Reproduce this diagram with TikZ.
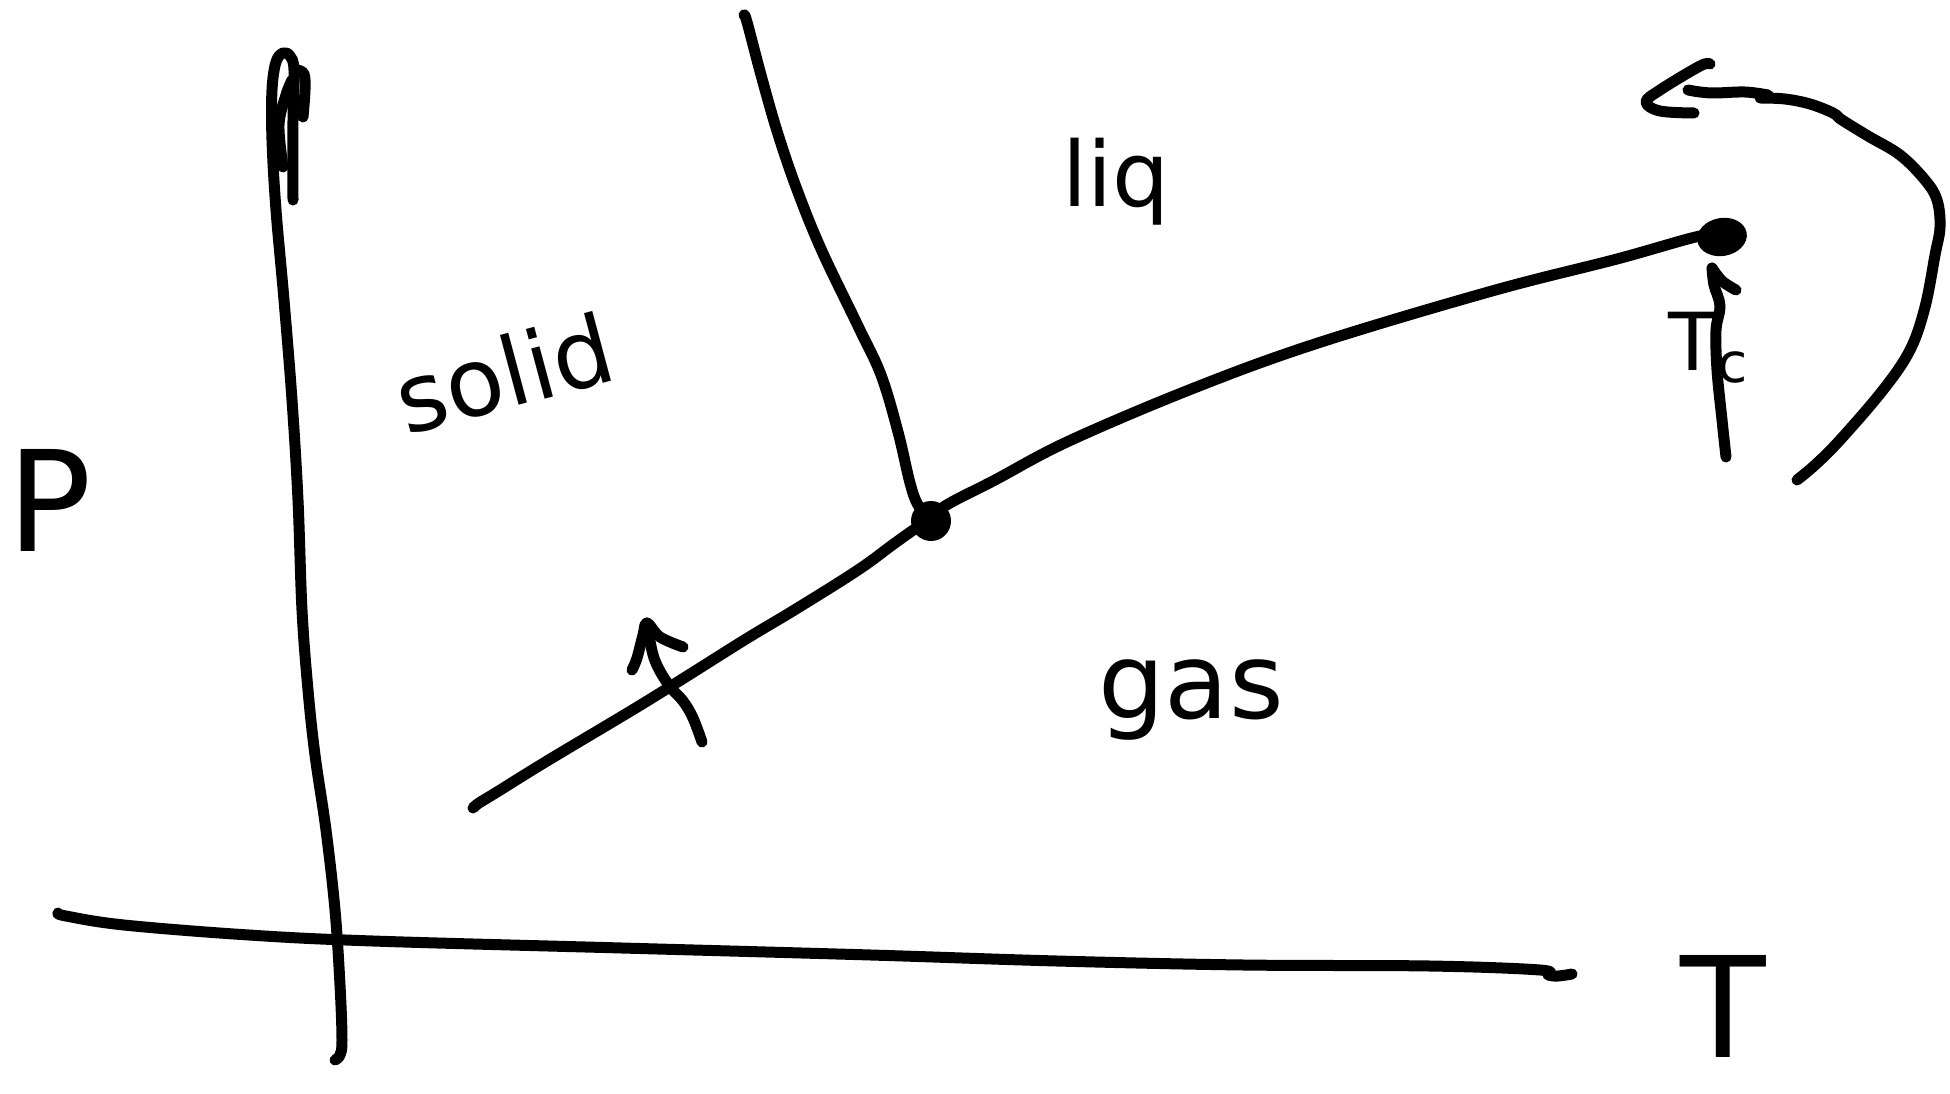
\documentclass[tikz,border=0pt]{standalone}
\usepackage{fontspec}
\setmainfont{DejaVu Sans}
\usetikzlibrary{shapes.geometric}
\begin{document}
\begin{tikzpicture}[x=1pt,y=-1pt,
  pen/.style={line width=11pt,line cap=round,line join=round,draw=black},
  blob/.style={fill=black,draw=none,inner sep=0pt},
  hand/.style={inner sep=0pt,text=black}]
\useasboundingbox[fill=white] (0,0) rectangle (1950,1094);

% points
\node[blob,circle,minimum size=40pt] (tp) at (931,521) {};
\node[blob,ellipse,minimum width=50pt,minimum height=38pt,rotate=10] (cp) at (1722,237) {};

% P axis (vertical, with hand-drawn arrow tip)
\draw[pen] plot[smooth,tension=0.6] coordinates {(293,200) (293,120) (294,70) (290,56) (283,53) (276,62) (272,90) (272,140) (276,210) (284,300) (292,400) (298,500) (302,610) (308,690) (315,755) (326,830) (335,910) (340,985) (342,1040) (340,1055) (335,1060)};
\draw[pen] plot[smooth,tension=0.6] coordinates {(283,167) (279,125) (286,95) (292,80)};
\draw[pen] plot[smooth,tension=0.6] coordinates {(297,70) (304,74) (305,90) (303,117)};

% T axis
\draw[pen] plot[smooth,tension=0.6] coordinates {(58,913) (66,916) (124,925) (249,935) (373,941) (622,948) (871,955) (1057,961) (1244,965) (1430,966) (1540,970) (1548,975) (1558,976) (1572,974)};

% solid-gas boundary
\draw[pen] plot[smooth,tension=0.6] coordinates {(473,808) (479,803) (497,792) (547,761) (634,709) (684,678) (746,639) (796,609) (858,570) (895,543) (918,527) (tp.center)};
% solid-liquid boundary
\draw[pen] plot[smooth,tension=0.6] coordinates {(744,15) (747,22) (761,75) (777,131) (796,187) (821,249) (858,326) (881,375) (898,432) (910,483) (918,505) (tp.center)};
% liquid-gas boundary
\draw[pen] plot[smooth,tension=0.6] coordinates {(tp.center) (945,506) (995,480) (1069,441) (1194,388) (1318,343) (1492,291) (1617,259) (1700,236) (cp.center)};

% arrow across solid-gas line
\coordinate (xa) at (702,742);
\draw[pen] plot[smooth,tension=0.6] coordinates {(xa) (693,718) (683,701) (668,684) (654,658) (647,623)};
\draw[pen] plot[smooth,tension=0.6] coordinates {(632,670) (637,658) (643,635) (647,623) (660,637) (683,647)};

% curved arrow at top right
\coordinate (ca) at (1797,480);
\draw[pen] plot[smooth,tension=0.6] coordinates {(ca) (1815,465) (1840,440) (1883,390) (1910,350) (1925,307) (1935,255) (1940,227) (1937,200) (1925,180) (1900,155) (1868,136) (1842,120) (1833,113) (1810,104) (1785,99) (1760,98)};
\draw[pen] plot[smooth,tension=0.6] coordinates {(1768,95) (1745,92) (1715,93) (1700,92) (1688,90)};
\draw[pen] plot[smooth,tension=0.6] coordinates {(1710,64) (1700,66) (1660,90) (1646,102) (1660,111) (1694,113)};

% arrow to critical point
\coordinate (tcfoot) at (1726,457);
\draw[pen] plot[smooth,tension=0.6] coordinates {(tcfoot) (1722,420) (1717,370) (1716,330) (1720,306) (1714,285) (1712,268)};
\draw[pen] plot[smooth,tension=0.6] coordinates {(1712,268) (1722,281) (1736,290)};

% labels
\node[hand,font=\fontsize{140}{140}\selectfont] (P) at (50,500) {P};
\node[hand,font=\fontsize{140}{140}\selectfont] (T) at (1723,1006) {T};
\node[hand,font=\fontsize{95}{95}\selectfont,rotate=15] (solid) at (504,373) {solid};
\node[hand,font=\fontsize{90}{90}\selectfont] (liq) at (1116,182) {liq};
\node[hand,font=\fontsize{105}{105}\selectfont] (gas) at (1191,700) {gas};
\node[hand,font=\fontsize{80}{80}\selectfont,anchor=base west] (Tc) at (1668,370) {T\raisebox{-12pt}{\fontsize{55}{55}\selectfont c}};
\end{tikzpicture}
\end{document}
